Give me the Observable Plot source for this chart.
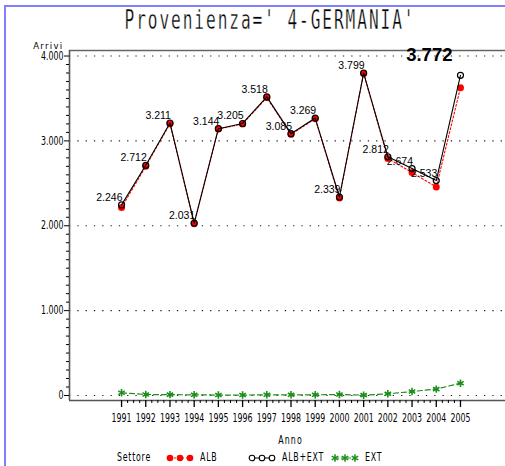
<!DOCTYPE html>
<html>
<head>
<meta charset="utf-8">
<script src="https://cdn.jsdelivr.net/npm/d3@7"></script>
<script src="https://cdn.jsdelivr.net/npm/@observablehq/plot@0.6"></script>
<style>
  body { margin: 0; background: #fff; }
  #wrap { position: relative; width: 505px; height: 466px; overflow: hidden; background: #fff; }
  .bl { position: absolute; background: #8080ff; }
  #title { position: relative; height: 42px; }
  #title div { position: absolute; left: 0; width: 540px; top: 7px; text-align: center;
    font-family: "DejaVu Sans Mono", monospace; font-size: 19px; line-height: 19px; letter-spacing: 2.25px;
    transform: scale(0.85, 1.4); transform-origin: 270px 0; color: #000; white-space: pre;
    -webkit-text-stroke: 0.3px #fff; }
  #chart svg { display: block; }
  #legend { position: relative; height: 16px; font-family: "DejaVu Sans Condensed", "DejaVu Sans", sans-serif;
    font-size: 11.5px; color: #000; }
  #legend span, #legend svg { position: absolute; }
  #legend span { top: 1px; line-height: 13px; transform: scaleX(0.76); transform-origin: left; letter-spacing: 1px; white-space: pre; }
</style>
</head>
<body>
<div id="wrap">
  <div class="bl" style="left:4px;top:5px;width:2px;height:461px"></div>
  <div class="bl" style="left:4px;top:5px;width:501px;height:2px"></div>
  <div id="title"><div>Provenienza=' 4-GERMANIA'</div></div>
  <div id="chart"></div>
  <div id="legend"></div>
</div>
<script>
// ---- data ----
const years   = [1991, 1992, 1993, 1994, 1995, 1996, 1997, 1998, 1999, 2000, 2001, 2002, 2003, 2004, 2005];
const albExt  = [2246, 2712, 3211, 2031, 3144, 3205, 3518, 3085, 3269, 2339, 3799, 2812, 2674, 2533, 3772];
const alb     = [2214, 2700, 3201, 2023, 3139, 3200, 3510, 3077, 3261, 2327, 3795, 2792, 2627, 2458, 3627];
const ext     = [32, 12, 10, 8, 5, 5, 8, 8, 8, 12, 4, 20, 47, 75, 145];
const yMajorTicks = [0, 1000, 2000, 3000, 4000];
const seriesNames = ["ALB", "ALB+EXT", "EXT"];
const legendTitle = "Settore";
const xTitle = "Anno";
const yTitle = "Arrivi";
const xDomain = [1988.85, 2006.86];
const yDomain = [-59, 4065];

const itLocale = d3.formatLocale({decimal: ",", thousands: ".", grouping: [3], currency: ["€", ""]});
const fmt = itLocale.format(",d");

const rows = years.map((y, i) => ({year: y, alb: alb[i], tot: albExt[i], ext: ext[i]}));
const yMinorTicks = d3.range(100, 4000, 100).filter(v => v % 1000 !== 0);
const xMinorTicks = d3.range(years[0], years[years.length - 1], 0.25).filter(v => v % 1 !== 0);

const narrow = '"DejaVu Sans Condensed", "DejaVu Sans", sans-serif';
const GREEN = "#1a8f1a";

const chart = Plot.plot({
  width: 505, height: 408,
  marginLeft: 69, marginRight: 0, marginTop: 8, marginBottom: 50,
  style: {fontFamily: narrow, fontSize: "11.5px", color: "#000", background: "transparent", overflow: "visible"},
  x: {domain: xDomain, label: null},
  y: {domain: yDomain, label: null},
  marks: [
    Plot.ruleY(yMajorTicks, {stroke: "#222", strokeWidth: 1.2, strokeDasharray: "1.3 7"}),
    Plot.ruleY([yDomain[1]], {stroke: "#666", strokeWidth: 1.6}),
    Plot.ruleY([yDomain[0]], {stroke: "#555", strokeWidth: 1.6}),
    Plot.ruleX([xDomain[0]], {stroke: "#555", strokeWidth: 1.6}),
    Plot.axisY(yMajorTicks, {tickSize: 5, tickPadding: 1, tickFormat: fmt, fontFamily: narrow, fontSize: 11.5}),
    Plot.axisY(yMinorTicks, {tickSize: 3, tickFormat: () => ""}),
    Plot.axisX(years, {tickSize: 7, tickPadding: 6, tickFormat: d => String(d), fontFamily: narrow, fontSize: 11.5, strokeWidth: 1.3}),
    Plot.axisX(xMinorTicks, {tickSize: 3, tickFormat: () => ""}),
    Plot.text([yTitle], {frameAnchor: "top-left", dx: -6, dy: -2, textAnchor: "end", lineAnchor: "bottom", text: d => d, fontSize: 9.5}),
    Plot.text([xTitle], {frameAnchor: "bottom", dx: 3, dy: 40, lineAnchor: "middle", text: d => d, fontSize: 11.5}),
    // EXT
    Plot.line(rows, {x: "year", y: "ext", stroke: GREEN, strokeWidth: 1.2, strokeDasharray: "5 3"}),
    Plot.dot(rows, {x: "year", y: "ext", symbol: "asterisk", stroke: GREEN, strokeWidth: 1.6, r: 3.5}),
    // ALB
    Plot.line(rows, {x: "year", y: "alb", stroke: "#ff0000", strokeWidth: 1.1, strokeDasharray: "2 2"}),
    Plot.dot(rows, {x: "year", y: "alb", fill: "#ff0000", r: 3.5}),
    // ALB+EXT
    Plot.line(rows, {x: "year", y: "tot", stroke: "#000", strokeWidth: 1.1}),
    Plot.dot(rows, {x: "year", y: "tot", stroke: "#000", fill: "none", strokeWidth: 1.2, r: 3}),
    Plot.text(rows.slice(0, -1), {x: "year", y: "tot", text: d => fmt(d.tot), textAnchor: "end", lineAnchor: "bottom", dx: 1, dy: -4,
      fontFamily: '"Liberation Sans", Arial, sans-serif', fontSize: 10.5}),
    Plot.text(rows.slice(-1), {x: "year", frameAnchor: "top", text: d => fmt(d.tot), textAnchor: "end", lineAnchor: "middle", dx: -8, dy: 5,
      fontFamily: '"Liberation Sans", Arial, sans-serif', fontSize: 18.5, fontWeight: "bold"})
  ]
});
// condense the SAS-style axis texts horizontally
const narrowTexts = new Set([...years.map(String), ...yMajorTicks.map(fmt), xTitle]);
chart.querySelectorAll("text").forEach(t => {
  if (narrowTexts.has(t.textContent)) {
    const tr = t.getAttribute("transform") || "";
    t.setAttribute("transform", tr + " scale(0.76,1)");
    if (t.textContent === xTitle) t.setAttribute("letter-spacing", "1.5");
  } else if (t.textContent === yTitle) {
    t.setAttribute("letter-spacing", "1.3");
  }
});
document.getElementById("chart").appendChild(chart);

// ---- legend ----
const legend = document.getElementById("legend");
function sw(kind) {
  const s = d3.create("svg").attr("width", 28).attr("height", 10);
  const xs = [4, 14, 24];
  if (kind === "ALB") {
    s.append("line").attr("x1", 4).attr("x2", 24).attr("y1", 5).attr("y2", 5).attr("stroke", "#f00").attr("stroke-dasharray", "2 2");
    xs.forEach(x => s.append("circle").attr("cx", x).attr("cy", 5).attr("r", 3.3).attr("fill", "#f00"));
  } else if (kind === "ALB+EXT") {
    s.append("line").attr("x1", 4).attr("x2", 24).attr("y1", 5).attr("y2", 5).attr("stroke", "#000");
    xs.forEach(x => s.append("circle").attr("cx", x).attr("cy", 5).attr("r", 2.8).attr("fill", "#fff").attr("stroke", "#000").attr("stroke-width", 1.1));
  } else {
    s.append("line").attr("x1", 4).attr("x2", 24).attr("y1", 5).attr("y2", 5).attr("stroke", GREEN).attr("stroke-dasharray", "4 2");
    const sym = d3.symbol(d3.symbolAsterisk, 40)();
    xs.forEach(x => s.append("path").attr("d", sym).attr("transform", `translate(${x},5)`).attr("stroke", GREEN).attr("stroke-width", 1.5).attr("fill", "none"));
  }
  return s.node();
}
function addSpan(text, left) {
  const sp = document.createElement("span");
  sp.textContent = text; sp.style.left = left + "px";
  legend.appendChild(sp);
}
addSpan(legendTitle, 117);
const swX = [166, 248, 331], txX = [200, 282, 365];
seriesNames.forEach((n, i) => {
  const node = sw(n);
  node.style.left = swX[i] + "px"; node.style.top = "3px";
  legend.appendChild(node);
  addSpan(n, txX[i]);
});
</script>
</body>
</html>
